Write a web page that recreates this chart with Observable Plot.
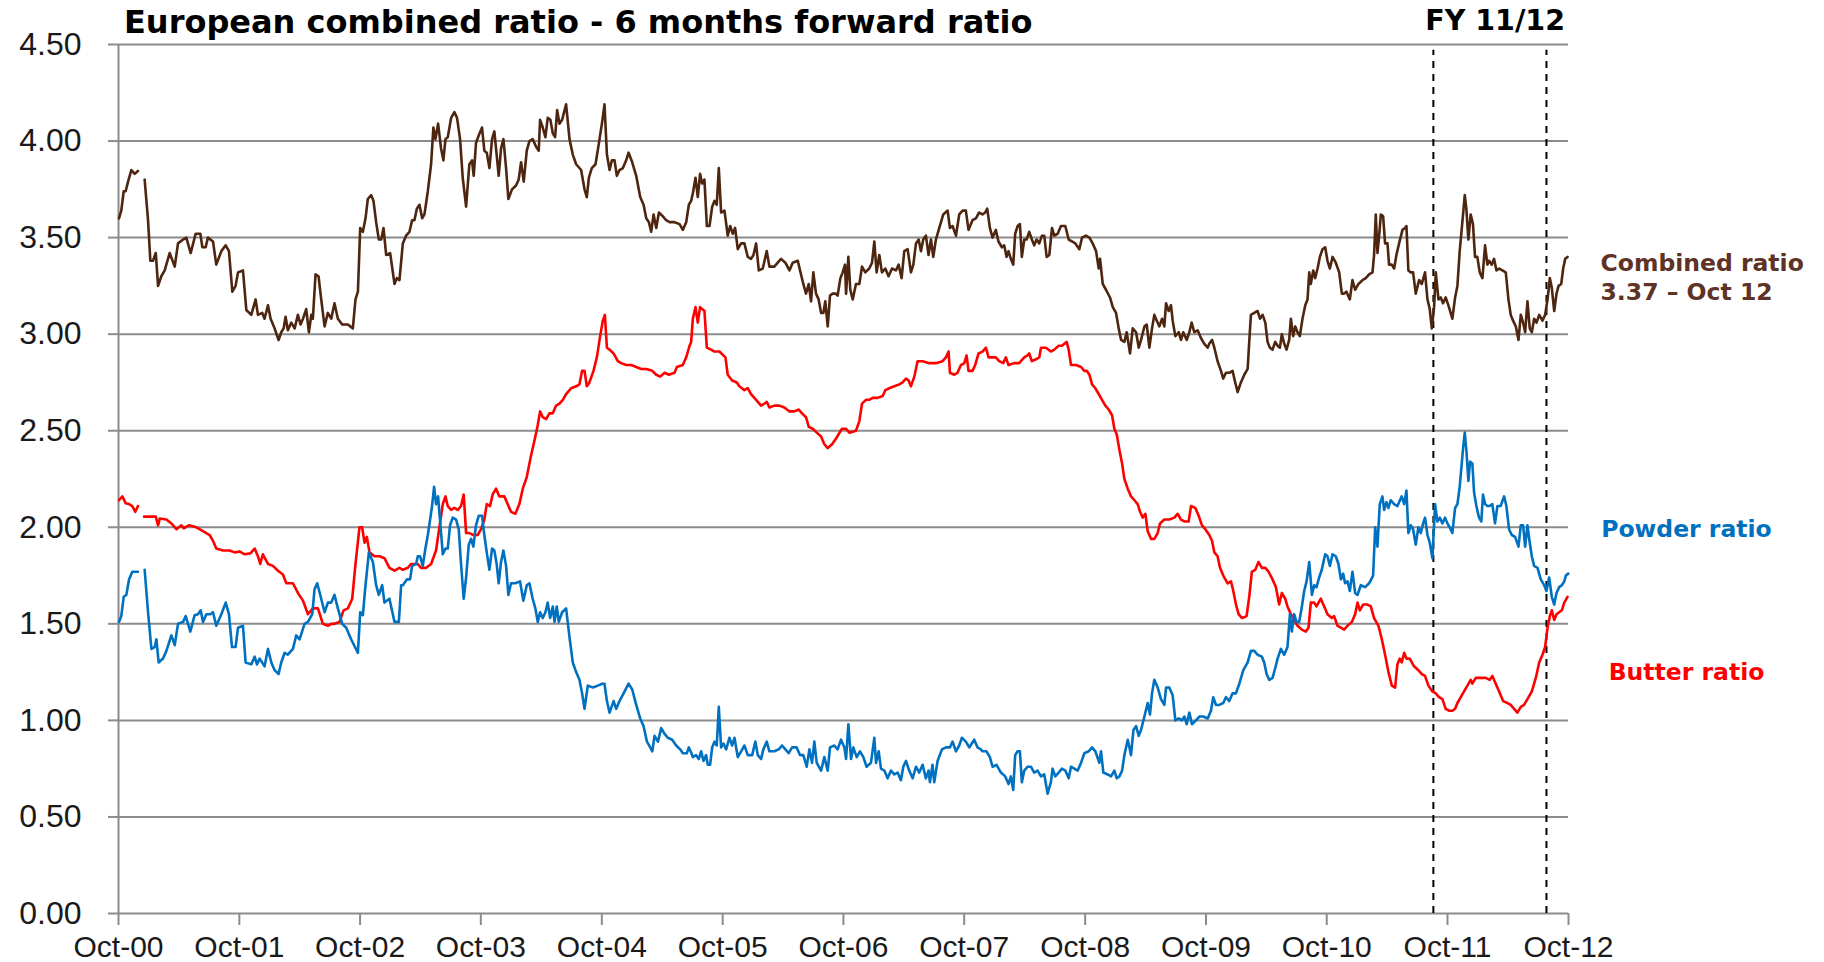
<!DOCTYPE html>
<html>
<head>
<meta charset="utf-8">
<script src="https://cdn.jsdelivr.net/npm/d3@7"></script>
<script src="https://cdn.jsdelivr.net/npm/@observablehq/plot@0.6"></script>
<style>
  html, body { margin: 0; padding: 0; background: #ffffff; }
  #wrap { position: relative; width: 1824px; height: 962px; overflow: hidden; background: #ffffff; }
  #title { position: absolute; left: 124px; top: 6px; font: bold 32px "DejaVu Sans", Verdana, sans-serif; line-height: 1; color: #000; white-space: nowrap; }
  #fy { position: absolute; right: 259px; top: 7px; font: bold 28.5px "DejaVu Sans", Verdana, sans-serif; line-height: 1; color: #000; white-space: nowrap; }
  #chart { position: absolute; left: 0; top: 40px; }
</style>
</head>
<body>
<div id="wrap">
  <div id="title">European combined ratio - 6 months forward ratio</div>
  <div id="fy">FY 11/12</div>
  <div id="chart"></div>
</div>
<script>
// Time is stored as decimal years (Oct-00 = 2000.75); null marks a break in the series.
const combinedRatio = [[2000.754,3.60],[2000.773,3.64],[2000.793,3.74],[2000.809,3.74],[2000.829,3.79],[2000.856,3.85],[2000.884,3.83],[2000.911,3.845],[2000.94,null],[2000.966,3.80],[2000.994,3.59],[2001.013,3.38],[2001.035,3.38],[2001.058,3.42],[2001.077,3.25],[2001.104,3.30],[2001.132,3.33],[2001.173,3.42],[2001.215,3.35],[2001.242,3.47],[2001.284,3.49],[2001.311,3.50],[2001.347,3.42],[2001.388,3.52],[2001.427,3.52],[2001.444,3.45],[2001.471,3.45],[2001.490,3.50],[2001.532,3.48],[2001.559,3.36],[2001.601,3.43],[2001.637,3.46],[2001.664,3.43],[2001.692,3.22],[2001.719,3.25],[2001.739,3.32],[2001.780,3.33],[2001.808,3.125],[2001.849,3.10],[2001.885,3.18],[2001.904,3.10],[2001.940,3.11],[2001.959,3.08],[2001.987,3.15],[2002.009,3.08],[2002.042,3.03],[2002.075,2.97],[2002.097,3.01],[2002.117,3.03],[2002.133,3.09],[2002.152,3.02],[2002.180,3.06],[2002.208,3.03],[2002.235,3.10],[2002.257,3.05],[2002.277,3.08],[2002.304,3.13],[2002.326,3.01],[2002.346,3.10],[2002.359,3.08],[2002.381,3.31],[2002.406,3.30],[2002.428,3.18],[2002.456,3.04],[2002.483,3.11],[2002.511,3.08],[2002.538,3.16],[2002.566,3.08],[2002.602,3.05],[2002.649,3.05],[2002.690,3.03],[2002.712,3.18],[2002.732,3.22],[2002.751,3.55],[2002.773,3.53],[2002.795,3.60],[2002.814,3.70],[2002.842,3.72],[2002.861,3.69],[2002.883,3.58],[2002.905,3.49],[2002.925,3.49],[2002.944,3.55],[2002.966,3.41],[2002.999,3.42],[2003.035,3.26],[2003.054,3.29],[2003.076,3.28],
[2003.104,3.47],[2003.131,3.51],[2003.159,3.53],[2003.181,3.59],[2003.200,3.59],[2003.220,3.65],[2003.242,3.67],[2003.264,3.60],[2003.283,3.62],[2003.311,3.74],[2003.338,3.88],[2003.357,4.07],[2003.374,4.01],[2003.396,4.09],[2003.421,3.96],[2003.440,3.90],[2003.457,4.01],[2003.476,4.02],[2003.504,4.12],[2003.531,4.15],[2003.553,4.12],[2003.578,4.01],[2003.600,3.81],[2003.628,3.66],[2003.655,3.88],[2003.677,3.90],[2003.691,3.82],[2003.710,3.99],[2003.733,4.03],[2003.760,4.07],[2003.779,3.95],[2003.799,3.94],[2003.821,3.86],[2003.843,4.01],[2003.862,4.05],[2003.881,3.93],[2003.898,3.82],[2003.917,3.96],[2003.937,4.01],[2003.959,3.86],[2003.978,3.70],[2004.008,3.75],[2004.041,3.77],[2004.063,3.80],[2004.083,3.89],[2004.105,3.79],[2004.130,3.95],[2004.152,4.00],[2004.179,4.01],[2004.207,3.97],[2004.229,3.95],[2004.240,4.11],[2004.262,4.07],[2004.284,4.02],[2004.303,4.12],[2004.325,4.11],[2004.345,4.04],[2004.364,4.02],[2004.381,4.16],[2004.400,4.09],[2004.422,4.11],[2004.455,4.19],[2004.483,4.01],[2004.510,3.93],[2004.538,3.88],[2004.579,3.85],[2004.607,3.75],[2004.626,3.71],[2004.643,3.81],[2004.667,3.86],[2004.698,3.88],[2004.731,4.01],[2004.753,4.10],[2004.772,4.19],[2004.792,3.93],[2004.814,3.85],[2004.833,3.90],[2004.855,3.90],[2004.874,3.82],[2004.896,3.85],[2004.924,3.86],[2004.951,3.90],[2004.971,3.94],[2005.001,3.89],[2005.034,3.82],[2005.067,3.71],[2005.095,3.67],[2005.117,3.60],[2005.139,3.58],[2005.158,3.53],[2005.178,3.62],[2005.200,3.55],[2005.222,3.63],[2005.255,3.61],[2005.282,3.59],[2005.310,3.58],[2005.351,3.58],[2005.393,3.57],[2005.420,3.54],[2005.448,3.58],[2005.470,3.67],[2005.489,3.69],
[2005.503,3.73],[2005.525,3.81],[2005.544,3.71],[2005.563,3.83],[2005.580,3.78],[2005.599,3.80],[2005.619,3.56],[2005.641,3.56],[2005.663,3.66],[2005.682,3.69],[2005.701,3.67],[2005.718,3.86],[2005.737,3.63],[2005.765,3.64],[2005.792,3.51],[2005.812,3.56],[2005.834,3.52],[2005.853,3.55],[2005.875,3.44],[2005.903,3.47],[2005.930,3.47],[2005.958,3.40],[2005.985,3.39],[2006.005,3.41],[2006.027,3.47],[2006.049,3.33],[2006.082,3.34],[2006.115,3.43],[2006.137,3.35],[2006.178,3.35],[2006.206,3.37],[2006.234,3.39],[2006.269,3.37],[2006.303,3.33],[2006.330,3.37],[2006.372,3.38],[2006.391,3.33],[2006.418,3.26],[2006.440,3.21],[2006.463,3.26],[2006.482,3.17],[2006.501,3.32],[2006.523,3.21],[2006.545,3.18],[2006.565,3.11],[2006.584,3.11],[2006.600,3.17],[2006.620,3.04],[2006.639,3.20],[2006.661,3.21],[2006.683,3.21],[2006.702,3.20],[2006.725,3.29],[2006.744,3.32],[2006.763,3.36],[2006.772,3.21],[2006.791,3.40],[2006.807,3.23],[2006.827,3.18],[2006.854,3.26],[2006.882,3.26],[2006.904,3.35],[2006.931,3.32],[2006.964,3.34],[2006.987,3.37],[2007.006,3.48],[2007.025,3.32],[2007.047,3.41],[2007.069,3.32],[2007.097,3.34],[2007.124,3.30],[2007.152,3.34],[2007.185,3.33],[2007.207,3.36],[2007.232,3.29],[2007.254,3.43],[2007.282,3.44],[2007.309,3.32],[2007.329,3.36],[2007.351,3.47],[2007.373,3.49],[2007.392,3.43],[2007.411,3.49],[2007.433,3.51],[2007.455,3.41],[2007.475,3.49],[2007.494,3.40],[2007.516,3.49],[2007.544,3.55],[2007.577,3.62],[2007.613,3.64],[2007.632,3.55],[2007.654,3.56],[2007.682,3.51],[2007.709,3.62],[2007.737,3.64],[2007.764,3.64],[2007.786,3.54],[2007.819,3.59],[2007.847,3.60],[2007.874,3.63],
[2007.902,3.62],[2007.924,3.63],[2007.941,3.65],[2007.963,3.55],[2007.985,3.50],[2008.012,3.54],[2008.034,3.48],[2008.062,3.45],[2008.081,3.46],[2008.101,3.40],[2008.117,3.43],[2008.136,3.39],[2008.156,3.36],[2008.172,3.52],[2008.192,3.56],[2008.211,3.57],[2008.227,3.40],[2008.247,3.49],[2008.266,3.49],[2008.288,3.53],[2008.310,3.49],[2008.329,3.46],[2008.349,3.49],[2008.371,3.47],[2008.393,3.51],[2008.412,3.51],[2008.432,3.40],[2008.454,3.41],[2008.476,3.55],[2008.495,3.51],[2008.523,3.52],[2008.550,3.56],[2008.586,3.56],[2008.614,3.49],[2008.641,3.48],[2008.669,3.47],[2008.702,3.44],[2008.724,3.50],[2008.757,3.51],[2008.785,3.50],[2008.812,3.47],[2008.840,3.43],[2008.862,3.34],[2008.873,3.39],[2008.895,3.26],[2008.922,3.23],[2008.955,3.19],[2008.978,3.14],[2009.005,3.11],[2009.027,3.03],[2009.047,2.97],[2009.074,2.96],[2009.093,3.01],[2009.121,2.90],[2009.143,3.03],[2009.171,3.01],[2009.193,2.93],[2009.212,2.97],[2009.240,3.04],[2009.259,3.05],[2009.281,2.93],[2009.303,3.03],[2009.322,3.10],[2009.342,3.07],[2009.364,3.04],[2009.386,3.08],[2009.405,3.04],[2009.419,3.16],[2009.441,3.12],[2009.460,3.15],[2009.474,3.07],[2009.496,2.99],[2009.524,3.01],[2009.543,2.97],[2009.562,3.01],[2009.590,2.97],[2009.612,3.01],[2009.631,3.06],[2009.653,3.01],[2009.681,3.02],[2009.708,2.98],[2009.736,2.95],[2009.764,2.93],[2009.777,2.95],[2009.800,2.97],[2009.819,2.93],[2009.846,2.86],[2009.874,2.81],[2009.893,2.77],[2009.915,2.80],[2009.943,2.80],[2009.970,2.81],[2009.992,2.75],[2010.012,2.70],[2010.039,2.75],[2010.067,2.79],[2010.095,2.82],[2010.108,2.96],[2010.122,3.10],[2010.150,3.11],[2010.177,3.12],[2010.197,3.08],[2010.219,3.10],[2010.241,3.06],[2010.260,2.96],[2010.279,2.93],
[2010.301,2.92],[2010.323,2.96],[2010.343,2.94],[2010.362,2.93],[2010.378,3.00],[2010.398,2.95],[2010.417,2.92],[2010.439,2.97],[2010.453,3.08],[2010.472,2.99],[2010.489,3.04],[2010.508,3.01],[2010.527,2.99],[2010.549,3.08],[2010.572,3.15],[2010.591,3.18],[2010.605,3.32],[2010.618,3.26],[2010.638,3.33],[2010.654,3.29],[2010.674,3.34],[2010.693,3.40],[2010.715,3.44],[2010.737,3.45],[2010.756,3.38],[2010.776,3.34],[2010.798,3.40],[2010.825,3.37],[2010.853,3.32],[2010.875,3.21],[2010.894,3.21],[2010.913,3.22],[2010.941,3.18],[2010.963,3.28],[2010.985,3.23],[2011.013,3.26],[2011.046,3.28],[2011.073,3.29],[2011.101,3.31],[2011.129,3.32],[2011.142,3.41],[2011.156,3.62],[2011.170,3.42],[2011.184,3.51],[2011.198,3.62],[2011.217,3.61],[2011.233,3.47],[2011.253,3.47],[2011.266,3.36],[2011.288,3.36],[2011.308,3.34],[2011.327,3.41],[2011.349,3.47],[2011.377,3.54],[2011.399,3.55],[2011.410,3.56],[2011.426,3.33],[2011.446,3.32],[2011.465,3.32],[2011.487,3.21],[2011.515,3.28],[2011.537,3.26],[2011.564,3.32],[2011.584,3.18],[2011.603,3.13],[2011.620,3.03],[2011.639,3.14],[2011.653,3.32],[2011.675,3.18],[2011.694,3.19],[2011.713,3.16],[2011.735,3.19],[2011.757,3.15],[2011.790,3.08],[2011.813,3.19],[2011.832,3.25],[2011.851,3.43],[2011.873,3.58],[2011.893,3.72],[2011.906,3.65],[2011.923,3.49],[2011.942,3.62],[2011.961,3.57],[2011.978,3.40],[2011.997,3.40],[2012.017,3.32],[2012.039,3.29],[2012.061,3.46],[2012.080,3.36],[2012.094,3.38],[2012.116,3.36],[2012.135,3.39],[2012.155,3.33],[2012.177,3.34],[2012.204,3.33],[2012.232,3.32],[2012.254,3.18],[2012.273,3.10],[2012.292,3.07],[2012.315,3.04],[2012.337,2.97],[2012.356,3.10],[2012.375,3.06],[2012.392,3.01],[2012.411,3.17],[2012.430,3.03],[2012.447,3.01],[2012.466,3.08],[2012.486,3.06],[2012.508,3.10],[2012.535,3.07],[2012.557,3.10],[2012.577,3.18],[2012.596,3.29],[2012.612,3.24],[2012.632,3.12],[2012.651,3.21],[2012.668,3.25],[2012.690,3.26],[2012.706,3.34],[2012.723,3.39],[2012.742,3.40]];

const butterRatio = [[2000.754,2.14],[2000.782,2.16],[2000.809,2.125],[2000.837,2.12],[2000.864,2.11],[2000.889,2.08],[2000.911,2.11],[2000.94,null],[2000.961,2.055],[2001.058,2.055],[2001.077,2.01],[2001.091,2.045],[2001.146,2.04],[2001.187,2.02],[2001.229,1.99],[2001.270,2.01],[2001.289,1.995],[2001.333,2.01],[2001.394,2.00],[2001.449,1.98],[2001.504,1.96],[2001.532,1.93],[2001.559,1.89],[2001.615,1.88],[2001.670,1.88],[2001.711,1.87],[2001.752,1.875],[2001.794,1.86],[2001.841,1.865],[2001.877,1.89],[2001.904,1.85],[2001.923,1.81],[2001.945,1.86],[2001.987,1.81],[2002.028,1.80],[2002.070,1.775],[2002.111,1.755],[2002.139,1.71],[2002.194,1.71],[2002.235,1.66],[2002.277,1.62],[2002.318,1.55],[2002.359,1.58],[2002.401,1.58],[2002.442,1.50],[2002.483,1.49],[2002.511,1.50],[2002.538,1.50],[2002.580,1.51],[2002.613,1.57],[2002.649,1.58],[2002.685,1.63],[2002.712,1.81],[2002.745,2.00],[2002.767,2.00],[2002.787,1.92],[2002.806,1.95],[2002.828,1.87],[2002.869,1.85],[2002.911,1.85],[2002.952,1.84],[2002.993,1.79],[2003.035,1.775],[2003.076,1.79],
[2003.104,1.78],[2003.145,1.79],[2003.173,1.81],[2003.200,1.81],[2003.228,1.81],[2003.255,1.79],[2003.297,1.79],[2003.338,1.81],[2003.379,1.88],[2003.407,2.00],[2003.435,2.12],[2003.457,2.16],[2003.476,2.11],[2003.504,2.09],[2003.531,2.10],[2003.559,2.09],[2003.586,2.11],[2003.608,2.17],[2003.628,1.97],[2003.655,1.97],[2003.688,1.96],[2003.724,1.96],[2003.752,1.99],[2003.779,2.04],[2003.799,2.12],[2003.826,2.11],[2003.848,2.17],[2003.876,2.20],[2003.903,2.16],[2003.945,2.16],[2003.972,2.12],[2004.000,2.08],[2004.036,2.07],[2004.069,2.12],[2004.097,2.20],[2004.130,2.26],[2004.165,2.37],[2004.201,2.47],[2004.221,2.53],[2004.240,2.60],[2004.262,2.57],[2004.290,2.56],[2004.317,2.59],[2004.345,2.59],[2004.372,2.63],[2004.400,2.64],[2004.428,2.66],[2004.455,2.69],[2004.496,2.72],[2004.538,2.73],[2004.565,2.74],[2004.587,2.81],[2004.607,2.81],[2004.626,2.73],[2004.648,2.75],[2004.681,2.81],[2004.709,2.88],[2004.736,2.99],[2004.758,3.07],[2004.775,3.10],[2004.792,2.93],[2004.814,2.92],[2004.847,2.90],[2004.882,2.86],[2004.910,2.85],[2004.951,2.84],[2004.993,2.84],[2005.034,2.83],[2005.076,2.82],[2005.117,2.82],[2005.167,2.81],[2005.200,2.79],[2005.233,2.78],[2005.269,2.80],[2005.305,2.79],[2005.351,2.80],[2005.371,2.83],[2005.420,2.84],[2005.448,2.88],[2005.476,2.94],[2005.489,2.96],
[2005.503,3.08],[2005.525,3.14],[2005.544,3.06],[2005.563,3.14],[2005.599,3.12],[2005.619,2.93],[2005.654,2.92],[2005.682,2.91],[2005.723,2.91],[2005.773,2.88],[2005.792,2.79],[2005.828,2.76],[2005.867,2.75],[2005.889,2.73],[2005.930,2.71],[2005.958,2.72],[2005.985,2.69],[2006.027,2.66],[2006.068,2.63],[2006.096,2.64],[2006.115,2.65],[2006.137,2.62],[2006.178,2.63],[2006.220,2.63],[2006.261,2.62],[2006.303,2.60],[2006.344,2.60],[2006.380,2.61],[2006.407,2.59],[2006.440,2.57],[2006.463,2.52],[2006.496,2.51],[2006.529,2.49],[2006.565,2.47],[2006.592,2.43],[2006.620,2.41],[2006.656,2.43],[2006.689,2.46],[2006.738,2.51],[2006.772,2.51],[2006.799,2.49],[2006.854,2.50],[2006.882,2.55],[2006.904,2.64],[2006.937,2.66],[2006.964,2.66],[2006.992,2.67],[2007.033,2.67],[2007.075,2.68],[2007.097,2.71],[2007.130,2.72],[2007.171,2.73],[2007.213,2.74],[2007.240,2.75],[2007.268,2.77],[2007.290,2.76],[2007.309,2.73],[2007.337,2.78],[2007.364,2.86],[2007.406,2.86],[2007.461,2.85],[2007.516,2.85],[2007.571,2.86],[2007.599,2.88],[2007.621,2.91],[2007.632,2.80],[2007.668,2.79],[2007.695,2.80],[2007.723,2.84],[2007.751,2.85],[2007.770,2.89],[2007.786,2.81],[2007.819,2.81],[2007.841,2.84],[2007.869,2.90],
[2007.902,2.91],[2007.930,2.93],[2007.952,2.88],[2007.985,2.88],[2008.012,2.88],[2008.040,2.86],[2008.073,2.85],[2008.095,2.88],[2008.117,2.84],[2008.164,2.85],[2008.205,2.85],[2008.247,2.88],[2008.274,2.89],[2008.288,2.90],[2008.310,2.86],[2008.343,2.87],[2008.371,2.88],[2008.385,2.93],[2008.426,2.93],[2008.467,2.91],[2008.495,2.92],[2008.531,2.94],[2008.558,2.94],[2008.578,2.95],[2008.597,2.96],[2008.614,2.92],[2008.633,2.84],[2008.674,2.84],[2008.716,2.83],[2008.743,2.81],[2008.763,2.81],[2008.785,2.79],[2008.807,2.74],[2008.834,2.72],[2008.862,2.69],[2008.889,2.66],[2008.917,2.63],[2008.944,2.61],[2008.972,2.58],[2008.991,2.51],[2009.011,2.48],[2009.033,2.40],[2009.055,2.33],[2009.074,2.25],[2009.102,2.20],[2009.129,2.16],[2009.157,2.14],[2009.184,2.12],[2009.204,2.08],[2009.226,2.05],[2009.248,2.07],[2009.267,1.98],[2009.295,1.94],[2009.322,1.94],[2009.350,1.97],[2009.369,2.02],[2009.405,2.04],[2009.446,2.04],[2009.488,2.05],[2009.515,2.07],[2009.543,2.04],[2009.571,2.03],[2009.606,2.03],[2009.626,2.11],[2009.662,2.10],[2009.689,2.06],[2009.717,2.01],[2009.744,1.99],[2009.777,1.96],[2009.800,1.93],[2009.819,1.87],[2009.846,1.85],[2009.866,1.79],[2009.893,1.75],[2009.929,1.71],[2009.957,1.72],[2009.976,1.67],[2009.998,1.60],[2010.020,1.55],[2010.048,1.53],[2010.086,1.54],[2010.108,1.64],[2010.130,1.77],[2010.158,1.78],[2010.185,1.82],[2010.213,1.79],[2010.241,1.79],[2010.268,1.77],
[2010.301,1.73],[2010.329,1.69],[2010.356,1.60],[2010.378,1.66],[2010.406,1.63],[2010.425,1.59],[2010.453,1.55],[2010.480,1.52],[2010.508,1.49],[2010.544,1.47],[2010.577,1.46],[2010.599,1.48],[2010.618,1.61],[2010.646,1.61],[2010.665,1.59],[2010.701,1.63],[2010.729,1.59],[2010.756,1.55],[2010.792,1.53],[2010.811,1.54],[2010.839,1.49],[2010.867,1.48],[2010.894,1.47],[2010.922,1.49],[2010.958,1.51],[2010.985,1.55],[2011.005,1.61],[2011.024,1.57],[2011.051,1.60],[2011.087,1.60],[2011.115,1.59],[2011.142,1.53],[2011.178,1.49],[2011.206,1.42],[2011.233,1.34],[2011.261,1.25],[2011.289,1.18],[2011.316,1.17],[2011.335,1.29],[2011.355,1.32],[2011.371,1.30],[2011.391,1.35],[2011.410,1.32],[2011.437,1.32],[2011.473,1.28],[2011.509,1.26],[2011.537,1.24],[2011.564,1.23],[2011.592,1.18],[2011.625,1.15],[2011.653,1.14],[2011.680,1.12],[2011.708,1.11],[2011.735,1.06],[2011.763,1.05],[2011.790,1.05],[2011.813,1.06],[2011.832,1.09],[2011.860,1.12],[2011.887,1.15],[2011.915,1.18],[2011.942,1.21],[2011.956,1.19],[2011.984,1.22],[2012.025,1.22],[2012.066,1.22],[2012.099,1.21],[2012.121,1.23],[2012.149,1.19],[2012.177,1.15],[2012.210,1.10],[2012.246,1.09],[2012.273,1.08],[2012.301,1.06],[2012.328,1.04],[2012.356,1.07],[2012.383,1.08],[2012.411,1.11],[2012.447,1.15],[2012.480,1.22],[2012.508,1.30],[2012.535,1.34],[2012.557,1.38],[2012.577,1.48],[2012.596,1.54],[2012.612,1.57],[2012.632,1.52],[2012.651,1.55],[2012.673,1.56],[2012.695,1.57],[2012.715,1.61],[2012.742,1.64]];

const powderRatio = [[2000.754,1.51],[2000.773,1.54],[2000.793,1.64],[2000.815,1.65],[2000.837,1.73],[2000.864,1.77],[2000.911,1.77],[2000.94,null],[2000.966,1.78],[2000.994,1.56],[2001.022,1.37],[2001.049,1.38],[2001.063,1.42],[2001.082,1.30],[2001.118,1.32],[2001.146,1.36],[2001.187,1.44],[2001.215,1.39],[2001.242,1.50],[2001.284,1.51],[2001.306,1.54],[2001.344,1.46],[2001.380,1.545],[2001.408,1.55],[2001.430,1.57],[2001.449,1.51],[2001.477,1.55],[2001.510,1.55],[2001.532,1.56],[2001.559,1.49],[2001.601,1.55],[2001.637,1.61],[2001.664,1.55],[2001.689,1.38],[2001.719,1.38],[2001.739,1.48],[2001.780,1.49],[2001.802,1.30],[2001.849,1.29],[2001.877,1.33],[2001.896,1.29],[2001.918,1.32],[2001.959,1.28],[2001.987,1.37],[2002.015,1.30],[2002.042,1.26],[2002.075,1.24],[2002.097,1.30],[2002.125,1.35],[2002.152,1.34],[2002.194,1.37],[2002.221,1.44],[2002.249,1.42],[2002.290,1.50],[2002.318,1.51],[2002.354,1.55],[2002.373,1.68],[2002.395,1.71],[2002.428,1.63],[2002.456,1.56],[2002.483,1.61],[2002.511,1.61],[2002.538,1.65],[2002.566,1.58],[2002.602,1.50],[2002.635,1.48],[2002.676,1.42],[2002.732,1.35],[2002.751,1.56],[2002.773,1.545],[2002.795,1.70],[2002.823,1.87],[2002.856,1.82],[2002.883,1.70],[2002.905,1.65],[2002.933,1.70],[2002.952,1.61],[2002.993,1.63],[2003.035,1.51],[2003.071,1.51],[2003.090,1.70],
[2003.104,1.70],[2003.137,1.73],[2003.164,1.73],[2003.181,1.80],[2003.214,1.81],[2003.228,1.85],[2003.247,1.85],[2003.269,1.80],[2003.291,1.89],[2003.311,1.96],[2003.330,2.04],[2003.346,2.11],[2003.363,2.21],[2003.379,2.12],[2003.396,2.16],[2003.413,2.03],[2003.435,1.86],[2003.457,1.89],[2003.476,1.89],[2003.495,2.01],[2003.517,2.05],[2003.545,2.04],[2003.567,1.99],[2003.586,1.81],[2003.608,1.63],[2003.628,1.74],[2003.650,1.91],[2003.669,1.94],[2003.688,1.90],[2003.710,2.01],[2003.733,2.06],[2003.760,2.06],[2003.779,1.96],[2003.799,1.87],[2003.821,1.78],[2003.843,1.89],[2003.862,1.88],[2003.881,1.81],[2003.898,1.71],[2003.917,1.82],[2003.937,1.88],[2003.959,1.80],[2003.978,1.65],[2004.000,1.71],[2004.036,1.71],[2004.074,1.72],[2004.102,1.62],[2004.130,1.70],[2004.152,1.71],[2004.179,1.63],[2004.201,1.58],[2004.221,1.51],[2004.240,1.56],[2004.262,1.53],[2004.284,1.56],[2004.303,1.61],[2004.323,1.53],[2004.345,1.59],[2004.359,1.51],[2004.378,1.59],[2004.394,1.51],[2004.422,1.56],[2004.455,1.58],[2004.483,1.43],[2004.510,1.30],[2004.538,1.25],[2004.565,1.21],[2004.587,1.14],[2004.607,1.06],[2004.634,1.18],[2004.676,1.17],[2004.717,1.18],[2004.753,1.19],[2004.772,1.19],[2004.792,1.10],[2004.814,1.04],[2004.847,1.10],[2004.869,1.06],[2004.896,1.10],[2004.938,1.15],[2004.971,1.19],[2005.001,1.16],[2005.034,1.08],[2005.067,1.01],[2005.095,0.97],[2005.123,0.89],[2005.150,0.86],[2005.167,0.84],[2005.186,0.92],[2005.214,0.89],[2005.241,0.96],[2005.269,0.93],[2005.296,0.91],[2005.332,0.90],[2005.365,0.87],[2005.398,0.85],[2005.420,0.83],[2005.453,0.83],[2005.470,0.86],[2005.492,0.83],
[2005.503,0.81],[2005.530,0.82],[2005.552,0.80],[2005.572,0.84],[2005.591,0.79],[2005.613,0.82],[2005.627,0.77],[2005.646,0.77],[2005.663,0.86],[2005.682,0.89],[2005.701,0.87],[2005.718,1.07],[2005.737,0.86],[2005.757,0.88],[2005.779,0.85],[2005.806,0.91],[2005.828,0.87],[2005.848,0.91],[2005.875,0.81],[2005.903,0.84],[2005.930,0.87],[2005.958,0.82],[2005.994,0.82],[2006.021,0.89],[2006.041,0.82],[2006.068,0.80],[2006.087,0.85],[2006.115,0.89],[2006.137,0.84],[2006.178,0.84],[2006.214,0.85],[2006.242,0.87],[2006.269,0.85],[2006.297,0.83],[2006.325,0.86],[2006.363,0.86],[2006.391,0.82],[2006.418,0.82],[2006.446,0.76],[2006.468,0.85],[2006.490,0.78],[2006.509,0.89],[2006.529,0.78],[2006.565,0.74],[2006.592,0.81],[2006.620,0.74],[2006.639,0.86],[2006.675,0.87],[2006.702,0.85],[2006.730,0.90],[2006.758,0.86],[2006.772,0.80],[2006.791,0.98],[2006.813,0.80],[2006.832,0.86],[2006.860,0.81],[2006.887,0.84],[2006.915,0.81],[2006.942,0.76],[2006.978,0.78],[2007.006,0.91],[2007.020,0.78],[2007.042,0.84],[2007.061,0.75],[2007.089,0.74],[2007.116,0.70],[2007.144,0.74],[2007.171,0.72],[2007.199,0.73],[2007.226,0.69],[2007.246,0.76],[2007.268,0.79],[2007.295,0.74],[2007.323,0.70],[2007.351,0.76],[2007.378,0.73],[2007.406,0.77],[2007.433,0.70],[2007.455,0.74],[2007.466,0.68],[2007.488,0.77],[2007.502,0.68],[2007.530,0.79],[2007.566,0.85],[2007.599,0.86],[2007.632,0.86],[2007.654,0.89],[2007.682,0.84],[2007.709,0.87],[2007.731,0.91],[2007.764,0.89],[2007.792,0.86],[2007.833,0.90],[2007.861,0.86],[2007.888,0.85],
[2007.902,0.84],[2007.935,0.84],[2007.963,0.81],[2007.985,0.76],[2008.018,0.77],[2008.054,0.73],[2008.090,0.71],[2008.117,0.67],[2008.136,0.71],[2008.156,0.64],[2008.172,0.82],[2008.192,0.84],[2008.211,0.84],[2008.227,0.68],[2008.247,0.74],[2008.274,0.76],[2008.302,0.76],[2008.329,0.73],[2008.357,0.74],[2008.385,0.71],[2008.412,0.72],[2008.440,0.62],[2008.467,0.68],[2008.481,0.75],[2008.503,0.71],[2008.531,0.73],[2008.558,0.75],[2008.586,0.74],[2008.614,0.70],[2008.633,0.76],[2008.660,0.75],[2008.688,0.74],[2008.716,0.78],[2008.743,0.83],[2008.779,0.84],[2008.807,0.86],[2008.834,0.84],[2008.867,0.78],[2008.881,0.84],[2008.900,0.73],[2008.936,0.72],[2008.964,0.71],[2008.991,0.74],[2009.011,0.70],[2009.033,0.71],[2009.055,0.74],[2009.074,0.82],[2009.102,0.90],[2009.116,0.86],[2009.129,0.82],[2009.149,0.95],[2009.171,0.97],[2009.193,0.92],[2009.212,0.95],[2009.240,1.02],[2009.267,1.09],[2009.286,1.03],[2009.303,1.14],[2009.322,1.21],[2009.350,1.17],[2009.377,1.11],[2009.405,1.08],[2009.419,1.17],[2009.446,1.17],[2009.474,1.13],[2009.496,1.00],[2009.524,1.01],[2009.551,1.00],[2009.571,1.02],[2009.590,0.98],[2009.612,1.04],[2009.634,0.98],[2009.667,1.00],[2009.695,1.02],[2009.728,1.02],[2009.764,1.01],[2009.791,1.05],[2009.810,1.12],[2009.833,1.08],[2009.860,1.08],[2009.893,1.09],[2009.915,1.12],[2009.943,1.10],[2009.970,1.14],[2009.998,1.14],[2010.026,1.19],[2010.059,1.26],[2010.095,1.30],[2010.122,1.36],[2010.150,1.36],[2010.177,1.34],[2010.213,1.33],[2010.232,1.30],[2010.252,1.24],[2010.274,1.21],
[2010.301,1.22],[2010.323,1.27],[2010.343,1.32],[2010.370,1.37],[2010.398,1.34],[2010.425,1.38],[2010.445,1.55],[2010.461,1.46],[2010.480,1.55],[2010.500,1.51],[2010.522,1.51],[2010.544,1.59],[2010.563,1.67],[2010.583,1.72],[2010.605,1.82],[2010.627,1.65],[2010.646,1.70],[2010.665,1.69],[2010.687,1.74],[2010.709,1.78],[2010.737,1.86],[2010.756,1.85],[2010.776,1.80],[2010.798,1.86],[2010.825,1.85],[2010.847,1.81],[2010.867,1.73],[2010.886,1.76],[2010.902,1.71],[2010.922,1.72],[2010.941,1.67],[2010.963,1.77],[2010.985,1.66],[2011.005,1.65],[2011.032,1.70],[2011.068,1.69],[2011.101,1.71],[2011.134,1.75],[2011.151,2.00],[2011.170,1.90],[2011.189,2.12],[2011.211,2.16],[2011.225,2.09],[2011.244,2.13],[2011.261,2.10],[2011.280,2.14],[2011.308,2.12],[2011.335,2.11],[2011.371,2.16],[2011.391,2.12],[2011.410,2.19],[2011.426,1.97],[2011.446,2.01],[2011.465,1.99],[2011.487,1.91],[2011.509,2.00],[2011.529,1.97],[2011.548,2.02],[2011.564,2.05],[2011.584,1.96],[2011.603,1.92],[2011.625,1.84],[2011.647,2.12],[2011.666,2.03],[2011.686,2.05],[2011.708,2.02],[2011.730,2.05],[2011.749,2.02],[2011.768,2.00],[2011.790,1.97],[2011.813,2.10],[2011.832,2.12],[2011.851,2.21],[2011.868,2.33],[2011.879,2.41],[2011.893,2.49],[2011.906,2.40],[2011.923,2.24],[2011.937,2.34],[2011.956,2.33],[2011.970,2.18],[2011.989,2.11],[2012.011,2.05],[2012.030,2.03],[2012.044,2.17],[2012.061,2.12],[2012.080,2.11],[2012.099,2.11],[2012.121,2.12],[2012.143,2.02],[2012.163,2.11],[2012.190,2.11],[2012.218,2.16],[2012.237,2.11],[2012.259,1.99],[2012.281,1.96],[2012.309,1.95],[2012.337,1.90],[2012.356,2.01],[2012.375,2.01],[2012.392,1.90],[2012.411,2.01],[2012.430,1.92],[2012.447,1.85],[2012.466,1.80],[2012.494,1.79],[2012.521,1.73],[2012.549,1.70],[2012.568,1.67],[2012.590,1.74],[2012.612,1.64],[2012.632,1.60],[2012.651,1.66],[2012.673,1.69],[2012.695,1.70],[2012.715,1.72],[2012.728,1.75],[2012.748,1.76]];

const yTickValues = [0, 0.5, 1, 1.5, 2, 2.5, 3, 3.5, 4, 4.5];
const xTickYears = [2000, 2001, 2002, 2003, 2004, 2005, 2006, 2007, 2008, 2009, 2010, 2011, 2012];
const fyMarks = [2011.633, 2012.568];   // FY 11/12 boundaries
const xDomainYears = [2000.75, 2012.75];
const seriesLabels = [
  {name: "Combined ratio\n3.37 – Oct 12", y: 3.30},
  {name: "Powder ratio", y: 1.99},
  {name: "Butter ratio", y: 1.25}
];

const toDate = (y) => {
  const Y = Math.floor(y);
  const a = Date.UTC(Y, 0, 1), b = Date.UTC(Y + 1, 0, 1);
  return new Date(a + (y - Y) * (b - a));
};
const rows = (arr) => arr.map(([t, v]) => ({date: toDate(t), value: v}));

const GRID = "#8c8c8c";
const endDate = toDate(xDomainYears[1]);
const tickDates = xTickYears.map(y => toDate(y + 0.75));

const chart = Plot.plot({
  width: 1824,
  height: 922,
  marginLeft: 118,
  marginRight: 256,
  marginTop: 4,
  marginBottom: 49,
  x: {type: "utc", domain: xDomainYears.map(toDate)},
  y: {domain: [0, 4.5]},
  style: {background: "#ffffff", fontFamily: "'Liberation Sans', Arial, sans-serif", overflow: "visible"},
  marks: [
    Plot.ruleY(yTickValues, {stroke: GRID, strokeWidth: 2}),
    Plot.axisY({ticks: yTickValues, tickFormat: d3.format(".2f"), tickSize: 10, tickPadding: 27,
      stroke: GRID, strokeWidth: 2, fill: "#1a1a1a", fontSize: 32, label: null}),
    Plot.axisX({ticks: tickDates, tickFormat: d => "Oct-" + String(d.getUTCFullYear() % 100).padStart(2, "0"),
      tickSize: 12, tickPadding: 10, stroke: GRID, strokeWidth: 2, fill: "#1a1a1a", fontSize: 30, label: null}),
    Plot.ruleX([toDate(xDomainYears[0])], {stroke: GRID, strokeWidth: 2}),
    Plot.ruleX(fyMarks.map(toDate), {y1: 0, y2: 4.47, stroke: "#000000", strokeWidth: 2, strokeDasharray: "7,6"}),
    Plot.line(rows(butterRatio), {x: "date", y: "value", stroke: "#ff0000", strokeWidth: 2.6}),
    Plot.line(rows(powderRatio), {x: "date", y: "value", stroke: "#0070c0", strokeWidth: 2.6}),
    Plot.line(rows(combinedRatio), {x: "date", y: "value", stroke: "#4e250f", strokeWidth: 2.6}),
    Plot.text([seriesLabels[0]], {x: () => endDate, y: "y", text: "name", textAnchor: "start", dx: 32,
      fill: "#5e3224", fontSize: 23.5, fontWeight: "bold", fontFamily: "'DejaVu Sans', Verdana, sans-serif", lineHeight: 1.25}),
    Plot.text([seriesLabels[1]], {x: () => endDate, y: "y", text: "name", textAnchor: "middle", dx: 118,
      fill: "#0070c0", fontSize: 23.5, fontWeight: "bold", fontFamily: "'DejaVu Sans', Verdana, sans-serif"}),
    Plot.text([seriesLabels[2]], {x: () => endDate, y: "y", text: "name", textAnchor: "middle", dx: 118,
      fill: "#ff0000", fontSize: 23.5, fontWeight: "bold", fontFamily: "'DejaVu Sans', Verdana, sans-serif"})
  ]
});
document.getElementById("chart").appendChild(chart);
</script>
</body>
</html>
